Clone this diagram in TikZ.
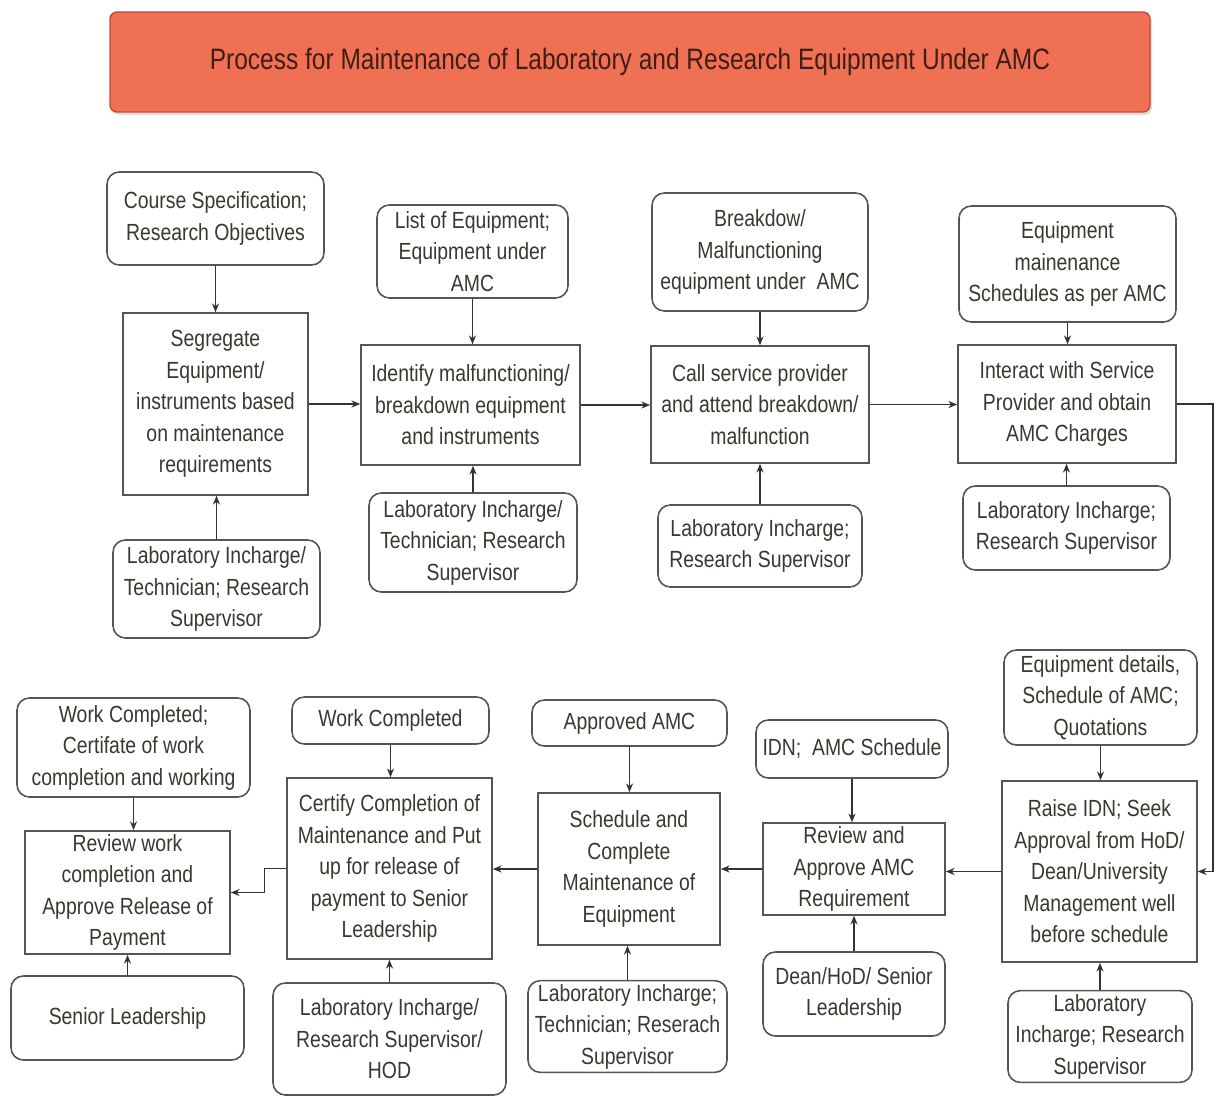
\documentclass[tikz,border=0pt]{standalone}
\usepackage{fontspec}
\setmainfont{Liberation Sans}[FakeStretch=0.83]
\usetikzlibrary{arrows.meta,shadows}
\definecolor{titlefill}{RGB}{240,112,84}
\definecolor{titleline}{RGB}{185,78,58}
\definecolor{titletext}{RGB}{62,30,22}
\definecolor{boxline}{RGB}{85,85,85}
\definecolor{boxtext}{RGB}{58,56,46}

\begin{document}
\begin{tikzpicture}
				\tikzstyle{procbox}=[rectangle, draw=boxline, line width=0.9pt, text=boxtext, align=center, inner sep=2pt, font=\fontsize{13.3}{17.9}\selectfont]
				\tikzstyle{inbox}=[procbox, rounded corners=7pt]
				\tikzstyle{arr}=[draw=black!80, line width=0.8pt, -{Stealth[length=5pt,width=4pt]}]
				\useasboundingbox (0,0) rectangle (24.32,-21.96);
				\node[rectangle, rounded corners=4pt, draw=titleline, line width=0.8pt, fill=titlefill, text=titletext, font=\fontsize{16.8}{20}\selectfont, minimum width=20.8cm, minimum height=2cm, drop shadow={opacity=0.25, shadow xshift=0.04cm, shadow yshift=-0.06cm}] (title) at (12.6,-1.24) {Process for Maintenance of Laboratory and Research Equipment Under AMC};
				\node[inbox, minimum width=4.34cm, minimum height=1.86cm] (segrin) at (4.31,-4.37) {Course Specification;\\Research Objectives};
				\node[procbox, minimum width=3.70cm, minimum height=3.64cm] (segr) at (4.31,-8.08) {Segregate\\Equipment/\\instruments based\\on maintenance\\requirements};
				\node[inbox, minimum width=4.14cm, minimum height=1.96cm] (segrres) at (4.33,-11.78) {Laboratory Incharge/\\Technician; Research\\Supervisor};
				\node[inbox, minimum width=3.82cm, minimum height=1.86cm] (identin) at (9.45,-5.03) {List of Equipment;\\Equipment under\\AMC};
				\node[procbox, minimum width=4.38cm, minimum height=2.40cm] (ident) at (9.41,-8.10) {Identify malfunctioning/\\breakdown equipment\\and instruments};
				\node[inbox, minimum width=4.16cm, minimum height=1.98cm] (identres) at (9.46,-10.85) {Laboratory Incharge/\\Technician; Research\\Supervisor};
				\node[inbox, minimum width=4.32cm, minimum height=2.36cm] (callin) at (15.2,-5.04) {Breakdow/\\Malfunctioning\\equipment under\ \ AMC};
				\node[procbox, minimum width=4.36cm, minimum height=2.34cm] (call) at (15.2,-8.09) {Call service provider\\and attend breakdown/\\malfunction};
				\node[inbox, minimum width=4.08cm, minimum height=1.64cm] (callres) at (15.2,-10.92) {Laboratory Incharge;\\Research Supervisor};
				\node[inbox, minimum width=4.34cm, minimum height=2.32cm] (interin) at (21.35,-5.28) {Equipment\\mainenance\\Schedules as per AMC};
				\node[procbox, minimum width=4.36cm, minimum height=2.36cm] (inter) at (21.34,-8.08) {Interact with Service\\Provider and obtain\\AMC Charges};
				\node[inbox, minimum width=4.14cm, minimum height=1.68cm] (interres) at (21.33,-10.56) {Laboratory Incharge;\\Research Supervisor};
				\node[inbox, minimum width=3.86cm, minimum height=1.90cm] (raisein) at (22.01,-13.95) {Equipment details,\\Schedule of AMC;\\Quotations};
				\node[procbox, minimum width=3.90cm, minimum height=3.62cm] (raise) at (21.99,-17.43) {Raise IDN; Seek\\Approval from HoD/\\Dean/University\\Management well\\before schedule};
				\node[inbox, minimum width=3.68cm, minimum height=1.74cm] (raiseres) at (22.0,-20.73) {Laboratory\\Incharge; Research\\Supervisor};
				\node[inbox, minimum width=3.84cm, minimum height=1.16cm] (rvwin) at (17.04,-14.98) {IDN;\ \ AMC Schedule};
				\node[procbox, minimum width=3.64cm, minimum height=1.72cm] (rvw) at (17.08,-17.38) {Review and\\Approve AMC\\Requirement};
				\node[inbox, minimum width=3.64cm, minimum height=1.68cm] (rvwres) at (17.08,-19.88) {Dean/HoD/ Senior\\Leadership};
				\node[inbox, minimum width=3.90cm, minimum height=0.92cm] (schedin) at (12.59,-14.46) {Approved AMC};
				\node[procbox, minimum width=3.64cm, minimum height=3.04cm] (sched) at (12.58,-17.38) {Schedule and\\Complete\\Maintenance of\\Equipment};
				\node[inbox, minimum width=3.98cm, minimum height=1.74cm] (schedres) at (12.55,-20.53) {Laboratory Incharge;\\Technician; Reserach\\Supervisor};
				\node[inbox, minimum width=3.94cm, minimum height=0.94cm] (certin) at (7.81,-14.41) {Work Completed};
				\node[procbox, minimum width=4.10cm, minimum height=3.62cm] (cert) at (7.79,-17.37) {Certify Completion of\\Maintenance and Put\\up for release of\\payment to Senior\\Leadership};
				\node[inbox, minimum width=4.66cm, minimum height=2.24cm] (certres) at (7.79,-20.78) {Laboratory Incharge/\\Research Supervisor/\\HOD};
				\node[inbox, minimum width=4.66cm, minimum height=1.98cm] (payin) at (2.67,-14.95) {Work Completed;\\Certifate of work\\completion and working};
				\node[procbox, minimum width=4.10cm, minimum height=2.38cm] (pay) at (2.55,-17.85) {Review work\\completion and\\Approve Release of\\Payment};
				\node[inbox, minimum width=4.66cm, minimum height=1.68cm] (payres) at (2.55,-20.36) {Senior Leadership};
				\foreach \s in {segr,ident,call,inter,raise,rvw,sched,cert,pay}
				{
					\draw[arr] (\s in.south) -- (\s in.south |- \s.north);
					\draw[arr] (\s res.north) -- (\s res.north |- \s.south);
				}
				\draw[arr] (segr.east) -- (segr.east -| ident.west);
				\draw[arr] (ident.east) -- (ident.east -| call.west);
				\draw[arr] (call.east) -- (call.east -| inter.west);
				\coordinate (turn) at (24.26,-8.08);
				\draw[arr] (inter.east) -- (inter.east -| turn) |- (raise.east);
				\draw[arr] (raise.west) -- (raise.west -| rvw.east);
				\draw[arr] (rvw.west) -- (rvw.west -| sched.east);
				\draw[arr] (sched.west) -- (sched.west -| cert.east);
				\draw[arr] (cert.west) -- ++(-0.44,0) |- (pay.east);
			\end{tikzpicture}
\end{document}
